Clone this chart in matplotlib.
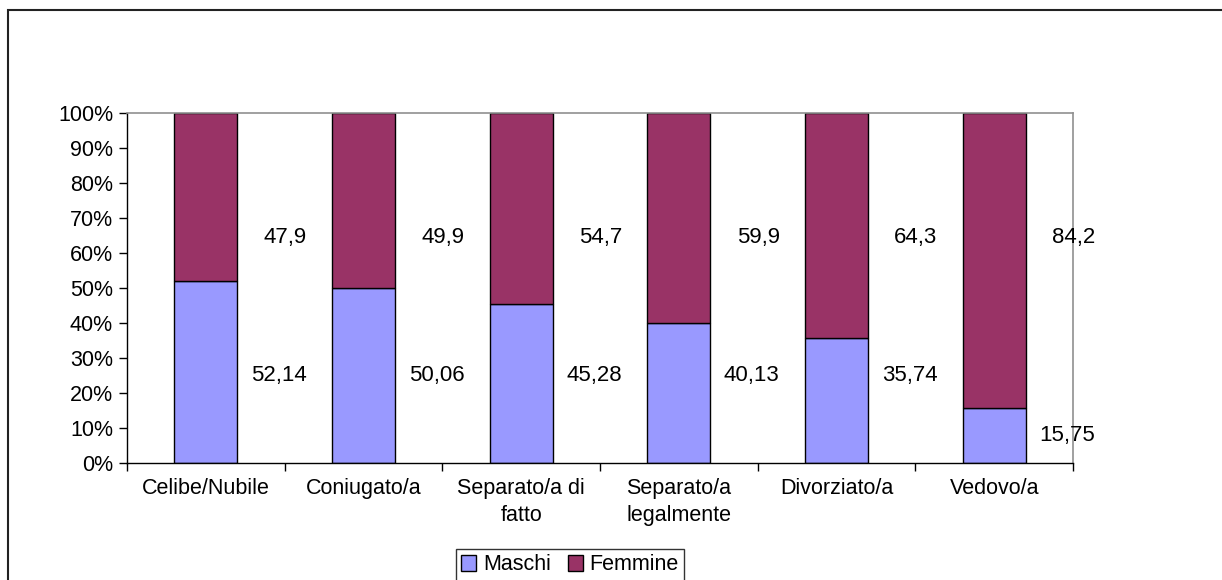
import matplotlib.pyplot as plt
import numpy as np
from matplotlib.patches import Rectangle

plt.rcParams['font.family'] = ['Liberation Sans', 'DejaVu Sans']

categorie = ["Celibe/Nubile", "Coniugato/a", "Separato/a di\nfatto",
             "Separato/a\nlegalmente", "Divorziato/a", "Vedovo/a"]
maschi = [52.14, 50.06, 45.28, 40.13, 35.74, 15.75]
femmine = [47.9, 49.9, 54.7, 59.9, 64.3, 84.2]


def fmt(v):
    return str(v).replace('.', ',')


def main():
    m = np.array(maschi)
    f = np.array(femmine)
    tot = m + f
    m_pct = m / tot * 100
    f_pct = f / tot * 100
    x = np.arange(len(categorie)) + 0.5

    fig = plt.figure(figsize=(12.22, 5.8), dpi=100)
    ax = fig.add_axes([127/1222, 117/580, 946/1222, 350/580])

    ax.bar(x, m_pct, width=0.4, color="#9999FF", edgecolor="black",
           linewidth=1, label="Maschi")
    ax.bar(x, f_pct, width=0.4, bottom=m_pct, color="#993366",
           edgecolor="black", linewidth=1, label="Femmine")

    # etichette a destra delle barre
    for xi, mv, fv in zip(x, m, f):
        ym = 25 if mv > 25 else mv / 2
        ax.text(xi + 0.64, ym, fmt(mv), ha="right", va="center",
                fontsize=16)
        ax.text(xi + 0.64, 64.5, fmt(fv), ha="right", va="center",
                fontsize=16)

    ax.set_xlim(0, len(categorie))
    ax.set_ylim(0, 100)
    ax.set_yticks(np.arange(0, 101, 10))
    ax.set_yticklabels(["%d%%" % v for v in range(0, 101, 10)], fontsize=15.5)
    ax.set_xticks(np.arange(0, len(categorie) + 1))
    ax.set_xticklabels([])
    ax.set_xticks(x, minor=True)
    ax.set_xticklabels(categorie, minor=True, fontsize=15.5, linespacing=1.35)
    ax.tick_params(axis="x", which="minor", length=0, pad=11)
    ax.tick_params(axis="both", which="major", length=6, width=1,
                   direction="out")
    ax.tick_params(axis="y", pad=4)

    for s in ["left", "bottom"]:
        ax.spines[s].set_color("black")
        ax.spines[s].set_linewidth(1)
    for s in ["top", "right"]:
        ax.spines[s].set_color("#909090")
        ax.spines[s].set_linewidth(1.2)

    leg = fig.legend(loc="center", bbox_to_anchor=(570/1222, 1 - 565/580),
                     ncol=2, fontsize=15.5, frameon=True, fancybox=False,
                     edgecolor="black", handlelength=0.7, handleheight=0.7,
                     handletextpad=0.3, columnspacing=0.8, borderpad=0.25,
                     borderaxespad=0)
    leg.get_frame().set_linewidth(1)

    # cornice esterna del grafico
    fig.patches.append(Rectangle((8/1222, -0.1), 1.2, 1.1 - 10/580,
                                 transform=fig.transFigure, fill=False,
                                 edgecolor="#222222", linewidth=1.5))

    plt.savefig("out.png", dpi=100)


if __name__ == '__main__':
    main()
